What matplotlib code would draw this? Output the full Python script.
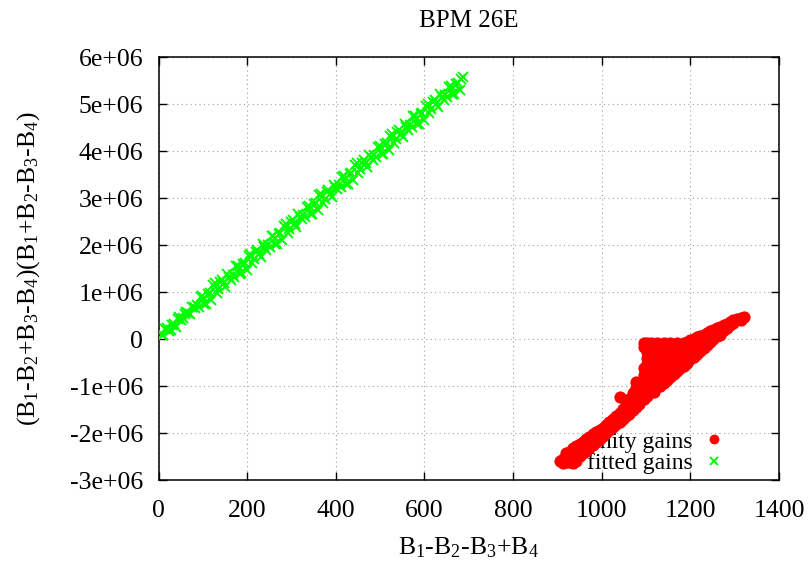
import numpy as np
import matplotlib
matplotlib.use("Agg")
import matplotlib.pyplot as plt

# y values in units of 1e6
fitted_x = [7 + 8 * k for k in range(86)] + [11 + 8 * k for k in range(85)]
fitted_y = [
    0.09, 0.21, 0.17, 0.31, 0.27, 0.48, 0.45, 0.58, 0.54, 0.68,
    0.73, 0.91, 0.76, 0.97, 0.83, 1.19, 1.07, 1.26, 1.12, 1.33,
    1.37, 1.55, 1.39, 1.61, 1.47, 1.82, 1.71, 1.90, 1.76, 1.97,
    2.00, 2.19, 2.03, 2.24, 2.11, 2.46, 2.35, 2.54, 2.39, 2.61,
    2.64, 2.82, 2.67, 2.88, 2.75, 3.10, 2.98, 3.18, 3.03, 3.24,
    3.28, 3.46, 3.31, 3.52, 3.38, 3.74, 3.62, 3.81, 3.67, 3.88,
    3.92, 4.10, 3.94, 4.16, 4.02, 4.37, 4.26, 4.45, 4.31, 4.52,
    4.55, 4.74, 4.58, 4.79, 4.66, 5.01, 4.90, 5.09, 4.94, 5.16,
    5.19, 5.37, 5.22, 5.43, 5.30, 5.57,
    # second pass
    0.09, 0.24, 0.19, 0.33, 0.44, 0.40, 0.54, 0.56, 0.69, 0.67,
    0.69, 0.92, 0.76, 0.99, 1.15, 0.99, 1.21, 1.19, 1.38, 1.27,
    1.33, 1.56, 1.40, 1.63, 1.78, 1.63, 1.85, 1.82, 2.02, 1.91,
    1.97, 2.20, 2.03, 2.27, 2.42, 2.26, 2.49, 2.46, 2.66, 2.55,
    2.60, 2.84, 2.67, 2.90, 3.06, 2.90, 3.13, 3.10, 3.29, 3.19,
    3.24, 3.47, 3.31, 3.54, 3.70, 3.54, 3.76, 3.74, 3.93, 3.82,
    3.88, 4.11, 3.95, 4.18, 4.33, 4.18, 4.40, 4.37, 4.57, 4.46,
    4.52, 4.75, 4.58, 4.82, 4.97, 4.81, 5.04, 5.01, 5.21, 5.10,
    5.15, 5.39, 5.22, 5.45, 5.54,
]

unity_cols = {
    905: [-2.58],
    912: [-2.55, -2.63],
    920: [-2.43, -2.53, -2.62],
    927: [-2.40, -2.52, -2.62],
    935: [-2.32, -2.45, -2.57, -2.64],
    942: [-2.28, -2.40, -2.52, -2.60],
    950: [-2.22, -2.35, -2.49],
    957: [-2.18, -2.30, -2.43],
    965: [-2.12, -2.25, -2.37],
    972: [-2.08, -2.19, -2.31],
    980: [-2.02, -2.13, -2.24],
    987: [-1.98, -2.08, -2.19],
    995: [-1.93, -2.03, -2.12],
    1002: [-1.88, -1.97, -2.06],
    1010: [-1.82, -1.91, -2.00],
    1017: [-1.76, -1.85, -1.94],
    1025: [-1.70, -1.79, -1.87],
    1032: [-1.63, -1.72, -1.81],
    1040: [-1.56, -1.66, -1.75, -1.22],
    1047: [-1.48, -1.59, -1.70],
    1055: [-1.40, -1.52, -1.63],
    1062: [-1.28, -1.40, -1.52, -1.58],
    1070: [-1.15, -1.28, -1.40, -1.50],
    1077: [-0.90, -1.03, -1.16, -1.30, -1.44],
    1085: [-0.95, -1.08, -1.22, -1.38],
    1095: [-0.07, -0.16, -0.62, -0.75, -0.88, -1.01, -1.14, -1.27],
    1102: [-0.07, -0.14, -0.27, -0.40, -0.53, -0.66, -0.79, -0.92, -1.05, -1.20],
    1110: [-0.07, -0.20, -0.33, -0.46, -0.59, -0.72, -0.85, -0.98, -1.11],
    1117: [-0.12, -0.26, -0.39, -0.52, -0.65, -0.78, -0.91, -1.04, -1.12],
    1125: [-0.07, -0.20, -0.33, -0.46, -0.59, -0.72, -0.85, -0.98],
    1132: [-0.12, -0.26, -0.39, -0.52, -0.65, -0.78, -0.91, -0.99],
    1140: [-0.07, -0.20, -0.33, -0.46, -0.59, -0.72, -0.85, -0.93],
    1147: [-0.12, -0.26, -0.39, -0.52, -0.65, -0.78, -0.86],
    1155: [-0.07, -0.20, -0.33, -0.46, -0.59, -0.72, -0.80],
    1162: [-0.12, -0.26, -0.39, -0.52, -0.65, -0.74],
    1170: [-0.07, -0.20, -0.33, -0.46, -0.59, -0.68],
    1177: [-0.12, -0.26, -0.39, -0.52, -0.61],
    1185: [-0.07, -0.20, -0.33, -0.46, -0.56],
    1192: [-0.05, -0.17, -0.30, -0.43, -0.50],
    1200: [-0.02, -0.15, -0.28, -0.43],
    1207: [0.01, -0.12, -0.24, -0.37],
    1215: [0.04, -0.09, -0.20, -0.31],
    1222: [0.07, -0.06, -0.18, -0.25],
    1230: [0.10, -0.03, -0.18],
    1237: [0.13, 0.01, -0.12],
    1245: [0.17, 0.05, -0.06],
    1252: [0.20, 0.10, 0.00],
    1260: [0.24, 0.15, 0.07],
    1267: [0.27, 0.17, 0.10],
    1275: [0.30, 0.19],
    1282: [0.33, 0.25],
    1290: [0.36, 0.31],
    1297: [0.40, 0.35],
    1305: [0.43],
    1314: [0.46, 0.42],
    1322: [0.47],
}
unity_x = [x for x, ys in unity_cols.items() for _ in ys]
unity_y = [y for ys in unity_cols.values() for y in ys]

xticks = [0, 200, 400, 600, 800, 1000, 1200, 1400]
yticks = [-3e6, -2e6, -1e6, 0, 1e6, 2e6, 3e6, 4e6, 5e6, 6e6]
ytick_labels = ["-3e+06", "-2e+06", "-1e+06", "0", "1e+06", "2e+06",
                "3e+06", "4e+06", "5e+06", "6e+06"]

plt.rcParams["font.family"] = ["Liberation Serif", "DejaVu Serif"]
plt.rcParams["mathtext.fontset"] = "custom"
plt.rcParams["mathtext.rm"] = "Liberation Serif"
plt.rcParams["mathtext.it"] = "Liberation Serif:italic"
plt.rcParams["font.size"] = 18.5

fig = plt.figure(figsize=(8.09, 5.61), dpi=100)
ax = fig.add_axes([0.196, 0.1439, 0.767, 0.754])

ax.plot(unity_x, np.array(unity_y) * 1e6, "o", color="#ff0000", ms=8.8,
        mec="none", label="unity gains", zorder=3)
ax.plot(fitted_x, np.array(fitted_y) * 1e6, "x", color="#00ff00", ms=7,
        mew=1.4, label="fitted gains", zorder=3)

ax.set_xlim(0, 1400)
ax.set_ylim(-3e6, 6e6)
ax.set_xticks(xticks)
ax.set_yticks(yticks)
ax.set_yticklabels(ytick_labels)
ax.tick_params(direction="in", length=6, width=1, top=True, right=True,
               labelsize=18.5)
ax.tick_params(axis="y", pad=11)
ax.tick_params(axis="x", pad=14)
ax.grid(True, color="#a0a0a0", linestyle=(0, (1, 3)), linewidth=0.8)
for s in ax.spines.values():
    s.set_linewidth(1.1)

ax.set_title("BPM 26E", pad=22, fontsize=18)
ax.set_xlabel(r"B$_1$-B$_2$-B$_3$+B$_4$", labelpad=10)
ax.set_ylabel(r"(B$_1$-B$_2$+B$_3$-B$_4$)(B$_1$+B$_2$-B$_3$-B$_4$)")
ax.yaxis.set_label_coords(-0.188, 0.5)

leg = ax.legend(loc="lower right", bbox_to_anchor=(0.94, -0.03), frameon=False,
                markerfirst=False, handlelength=0.8, handletextpad=0.5,
                labelspacing=0.0, borderpad=0.3, fontsize=17, markerscale=0.8)
leg.set_zorder(1)

fig.savefig("out.png", dpi=100)
